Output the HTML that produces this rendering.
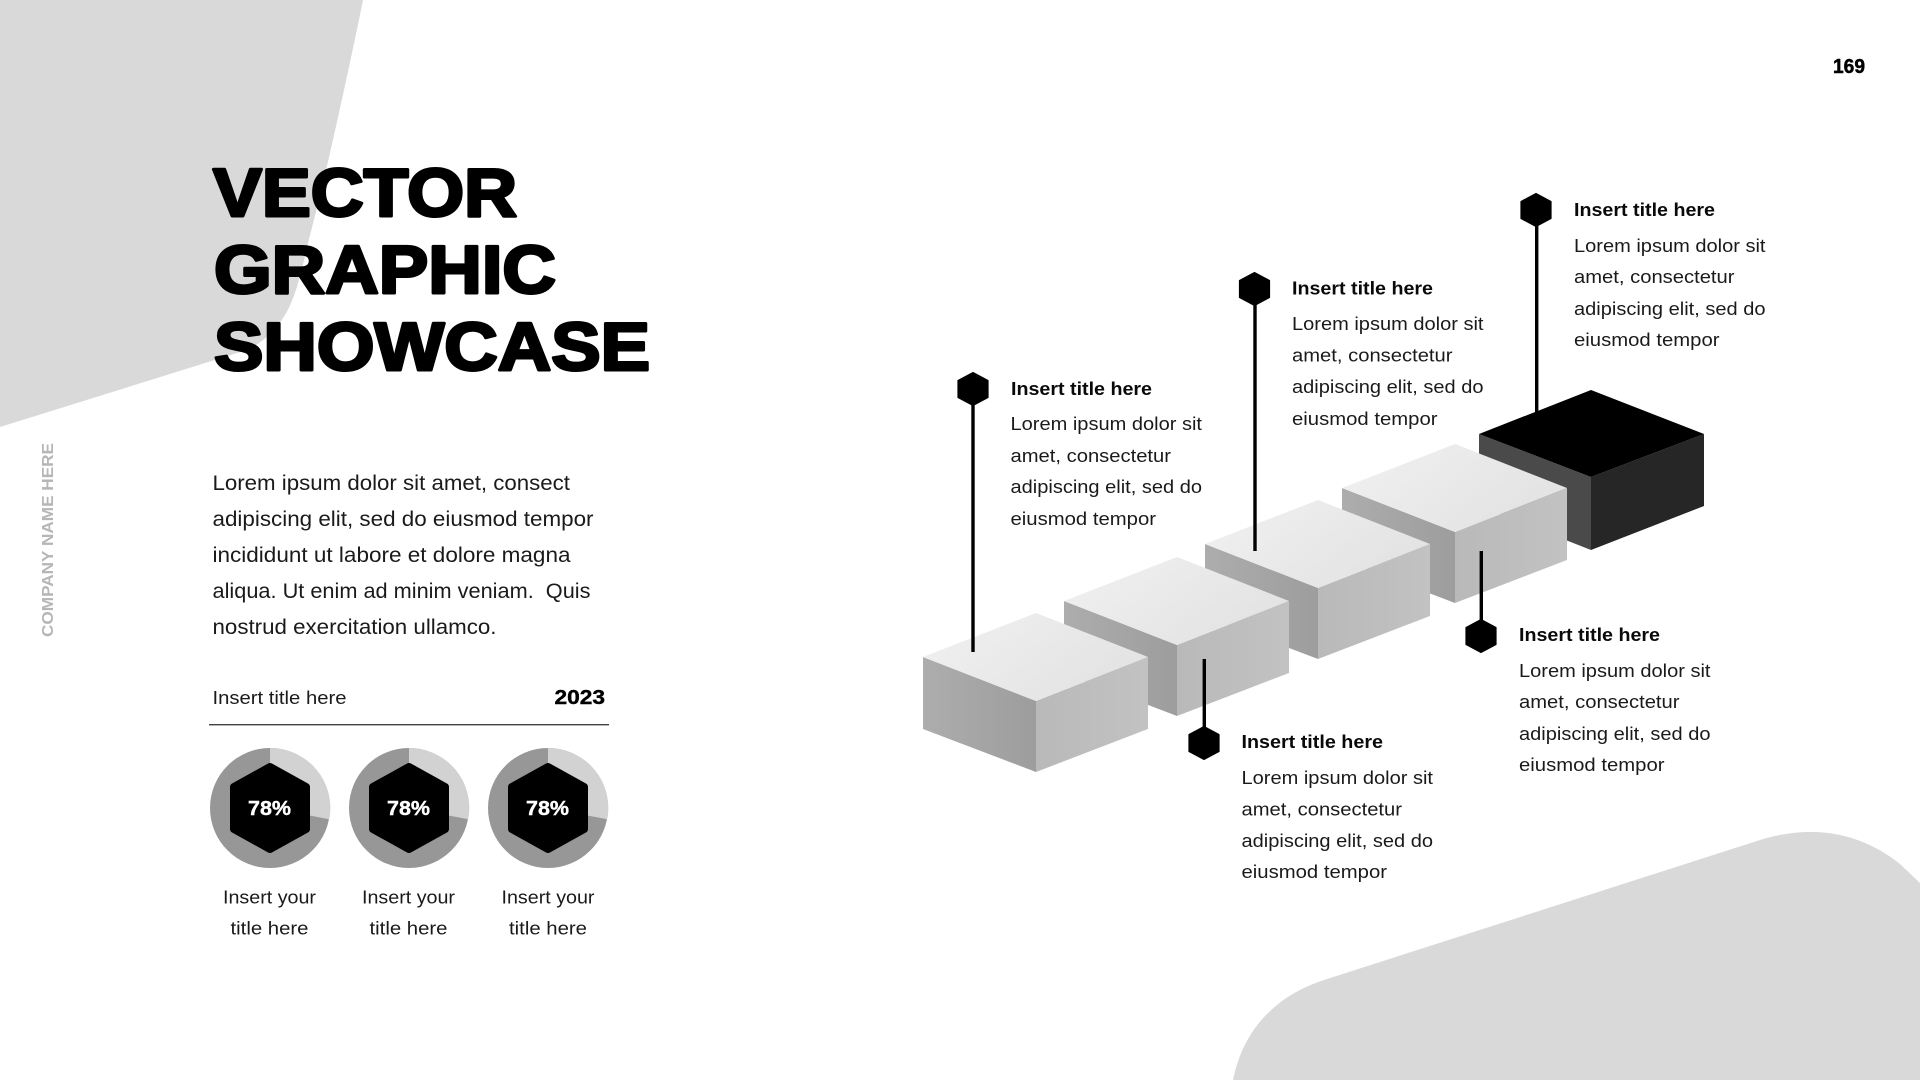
<!DOCTYPE html>
<html lang="en">
<head>
<meta charset="utf-8">
<title>Vector Graphic Showcase</title>
<style>
html,body{margin:0;padding:0;background:#fff;width:1920px;height:1080px;overflow:hidden}
svg{display:block;position:absolute;left:0;top:0}
text{font-family:"Liberation Sans",sans-serif}
.h{font-weight:700;font-size:68px;fill:#000;stroke:#000;stroke-width:3px;stroke-linejoin:round}
.b{font-size:21.5px;fill:#1a1a1a}
.t{font-size:18.5px;font-weight:700;fill:#0a0a0a}
.p{font-size:18.5px;fill:#1a1a1a}
</style>
</head>
<body>
<svg width="1920" height="1080" viewBox="0 0 1920 1080" xmlns="http://www.w3.org/2000/svg">
<defs>
<linearGradient id="gt" x1="0" y1="0" x2="1" y2="0.5"><stop offset="0" stop-color="#f1f1f1"/><stop offset="1" stop-color="#e3e3e3"/></linearGradient>
<linearGradient id="gl" x1="0" y1="0" x2="1" y2="0"><stop offset="0" stop-color="#adadad"/><stop offset="1" stop-color="#9d9d9d"/></linearGradient>
<linearGradient id="gr" x1="0" y1="0" x2="1" y2="0"><stop offset="0" stop-color="#b9b9b9"/><stop offset="1" stop-color="#c2c2c2"/></linearGradient>
<g id="blk">
<polygon points="923,657 1036,701 1036,772 923,729" fill="url(#gl)"/>
<polygon points="1036,701 1148,657 1148,729 1036,772" fill="url(#gr)"/>
<polygon points="923,657 1036,613 1148,657 1036,701" fill="url(#gt)"/>
</g>
<g id="pie">
<circle cx="270" cy="808" r="60" fill="#979797"/>
<path d="M270 808 L270 748 A60 60 0 0 1 329.3 819.3 Z" fill="#d2d2d2"/>
<polygon points="270,767 306,787 306,829 270,849 234,829 234,787" fill="#000" stroke="#000" stroke-width="8" stroke-linejoin="round"/>
</g>
<polygon id="hx" points="0,-16.5 15,-8.5 15,8.5 0,16.5 -15,8.5 -15,-8.5" fill="#000" stroke="#000" stroke-width="1.2" stroke-linejoin="round"/>
</defs>

<rect width="1920" height="1080" fill="#fff"/>
<path d="M0 0 L363 0 C352 55 325 180 308 243 C296 295 290 325 250 349 L0 427 Z" fill="#d9d9d9"/>
<path d="M1233 1080 C1243 1030 1275 996 1324 980 L1760 840 C1780 834 1795 832 1812 832 C1850 832 1880 848 1900 864 L1920 883 L1920 1080 Z" fill="#d9d9d9"/>

<text class="h" x="213" y="216" textLength="304" lengthAdjust="spacingAndGlyphs">VECTOR</text>
<text class="h" x="214" y="293" textLength="342" lengthAdjust="spacingAndGlyphs">GRAPHIC</text>
<text class="h" x="214" y="370" textLength="436" lengthAdjust="spacingAndGlyphs">SHOWCASE</text>

<text x="53" y="637" transform="rotate(-90 53 637)" font-size="15.5" font-weight="700" fill="#b6b6b6" textLength="194" lengthAdjust="spacingAndGlyphs">COMPANY NAME HERE</text>
<text x="1833" y="73" font-size="20" font-weight="700" fill="#000" stroke="#000" stroke-width=".5" textLength="32" lengthAdjust="spacingAndGlyphs">169</text>

<text class="b" x="212.5" y="490" textLength="357.5" lengthAdjust="spacingAndGlyphs">Lorem ipsum dolor sit amet, consect</text>
<text class="b" x="212.5" y="526" textLength="381" lengthAdjust="spacingAndGlyphs">adipiscing elit, sed do eiusmod tempor</text>
<text class="b" x="212.5" y="562" textLength="358" lengthAdjust="spacingAndGlyphs">incididunt ut labore et dolore magna</text>
<text class="b" x="212.5" y="598" textLength="378" lengthAdjust="spacingAndGlyphs" xml:space="preserve">aliqua. Ut enim ad minim veniam.  Quis</text>
<text class="b" x="212.5" y="634" textLength="284" lengthAdjust="spacingAndGlyphs">nostrud exercitation ullamco.</text>

<text class="p" x="212.5" y="704" textLength="134" lengthAdjust="spacingAndGlyphs">Insert title here</text>
<text x="554.5" y="704" font-size="20" font-weight="700" fill="#000" stroke="#000" stroke-width=".4" textLength="50.5" lengthAdjust="spacingAndGlyphs">2023</text>
<rect x="209" y="724" width="400" height="1.4" fill="#444"/>

<use href="#pie"/>
<use href="#pie" x="139"/>
<use href="#pie" x="278"/>
<g font-size="20" font-weight="700" fill="#fff" stroke="#fff" stroke-width=".4">
<text x="248" y="815" textLength="43" lengthAdjust="spacingAndGlyphs">78%</text>
<text x="387" y="815" textLength="43" lengthAdjust="spacingAndGlyphs">78%</text>
<text x="526" y="815" textLength="43" lengthAdjust="spacingAndGlyphs">78%</text>
</g>
<text class="p" x="223" y="903.5" textLength="93" lengthAdjust="spacingAndGlyphs">Insert your</text>
<text class="p" x="230.5" y="934.5" textLength="78" lengthAdjust="spacingAndGlyphs">title here</text>
<text class="p" x="362" y="903.5" textLength="93" lengthAdjust="spacingAndGlyphs">Insert your</text>
<text class="p" x="369.5" y="934.5" textLength="78" lengthAdjust="spacingAndGlyphs">title here</text>
<text class="p" x="501.5" y="903.5" textLength="93" lengthAdjust="spacingAndGlyphs">Insert your</text>
<text class="p" x="509" y="934.5" textLength="78" lengthAdjust="spacingAndGlyphs">title here</text>

<!-- line under black block -->
<rect x="1535" y="225" width="3.4" height="190" fill="#000"/>
<use href="#hx" x="1536" y="210"/>

<!-- black block -->
<polygon points="1479,434 1591,477 1591,550 1479,506" fill="#4a4a4a"/>
<polygon points="1591,477 1704,434 1704,506 1591,550" fill="#262626"/>
<polygon points="1479,434 1591,390 1704,434 1591,477" fill="#000"/>

<use href="#blk" x="419" y="-169"/>
<use href="#blk" x="282" y="-113"/>
<use href="#blk" x="141" y="-56"/>
<use href="#blk"/>

<!-- connectors -->
<rect x="971.3" y="400" width="3.4" height="252" fill="#000"/>
<use href="#hx" x="973" y="389"/>
<rect x="1253.3" y="300" width="3.4" height="251" fill="#000"/>
<use href="#hx" x="1254.5" y="289"/>
<rect x="1202.6" y="659" width="3.4" height="75" fill="#000"/>
<use href="#hx" x="1204" y="743"/>
<rect x="1479.6" y="551" width="3.4" height="75" fill="#000"/>
<use href="#hx" x="1481" y="636"/>

<!-- group 1 -->
<text class="t" x="1011" y="395" textLength="141" lengthAdjust="spacingAndGlyphs">Insert title here</text>
<text class="p" x="1010.5" y="430" textLength="191.5" lengthAdjust="spacingAndGlyphs">Lorem ipsum dolor sit</text>
<text class="p" x="1010.5" y="462" textLength="160.5" lengthAdjust="spacingAndGlyphs">amet, consectetur</text>
<text class="p" x="1010.5" y="493" textLength="191.5" lengthAdjust="spacingAndGlyphs">adipiscing elit, sed do</text>
<text class="p" x="1010.5" y="525" textLength="145.5" lengthAdjust="spacingAndGlyphs">eiusmod tempor</text>
<!-- group 2 -->
<text class="t" x="1292" y="294.5" textLength="141" lengthAdjust="spacingAndGlyphs">Insert title here</text>
<text class="p" x="1292" y="330" textLength="191.5" lengthAdjust="spacingAndGlyphs">Lorem ipsum dolor sit</text>
<text class="p" x="1292" y="361.5" textLength="160.5" lengthAdjust="spacingAndGlyphs">amet, consectetur</text>
<text class="p" x="1292" y="393" textLength="191.5" lengthAdjust="spacingAndGlyphs">adipiscing elit, sed do</text>
<text class="p" x="1292" y="425" textLength="145.5" lengthAdjust="spacingAndGlyphs">eiusmod tempor</text>
<!-- group 3 -->
<text class="t" x="1574" y="216" textLength="141" lengthAdjust="spacingAndGlyphs">Insert title here</text>
<text class="p" x="1574" y="252" textLength="191.5" lengthAdjust="spacingAndGlyphs">Lorem ipsum dolor sit</text>
<text class="p" x="1574" y="283" textLength="160.5" lengthAdjust="spacingAndGlyphs">amet, consectetur</text>
<text class="p" x="1574" y="315" textLength="191.5" lengthAdjust="spacingAndGlyphs">adipiscing elit, sed do</text>
<text class="p" x="1574" y="346" textLength="145.5" lengthAdjust="spacingAndGlyphs">eiusmod tempor</text>
<!-- group 4 -->
<text class="t" x="1241.5" y="748" textLength="141.5" lengthAdjust="spacingAndGlyphs">Insert title here</text>
<text class="p" x="1241.5" y="784" textLength="191.5" lengthAdjust="spacingAndGlyphs">Lorem ipsum dolor sit</text>
<text class="p" x="1241.5" y="815.5" textLength="160.5" lengthAdjust="spacingAndGlyphs">amet, consectetur</text>
<text class="p" x="1241.5" y="847" textLength="191.5" lengthAdjust="spacingAndGlyphs">adipiscing elit, sed do</text>
<text class="p" x="1241.5" y="878" textLength="145.5" lengthAdjust="spacingAndGlyphs">eiusmod tempor</text>
<!-- group 5 -->
<text class="t" x="1519" y="641" textLength="141" lengthAdjust="spacingAndGlyphs">Insert title here</text>
<text class="p" x="1519" y="677" textLength="191.5" lengthAdjust="spacingAndGlyphs">Lorem ipsum dolor sit</text>
<text class="p" x="1519" y="708" textLength="160.5" lengthAdjust="spacingAndGlyphs">amet, consectetur</text>
<text class="p" x="1519" y="740" textLength="191.5" lengthAdjust="spacingAndGlyphs">adipiscing elit, sed do</text>
<text class="p" x="1519" y="771" textLength="145.5" lengthAdjust="spacingAndGlyphs">eiusmod tempor</text>
</svg>
</body>
</html>
